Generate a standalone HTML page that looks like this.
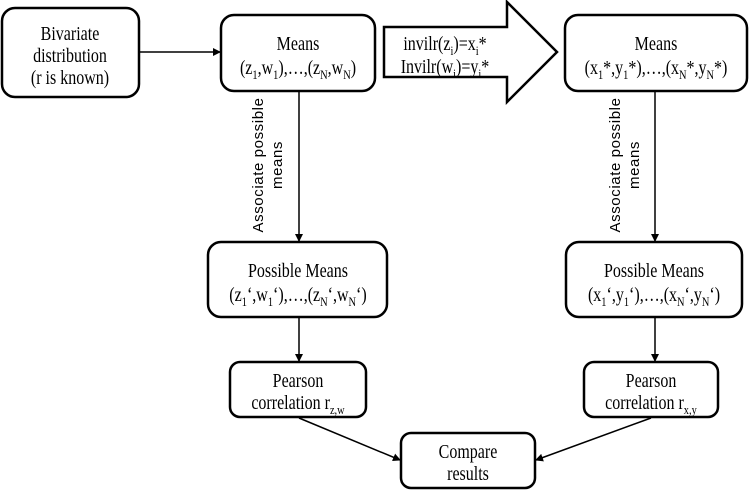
<!DOCTYPE html>
<html><head><meta charset="utf-8"><style>
html,body{margin:0;padding:0;background:#fff}
svg{display:block}
.t text{font-family:"Liberation Serif",serif;font-size:20px;fill:#000}
.s{font-family:"Liberation Sans",sans-serif;font-size:15px;letter-spacing:0.6px}
.sub{font-size:13px}
</style></head><body>
<svg width="749" height="491" viewBox="0 0 749 491" xmlns="http://www.w3.org/2000/svg">
<defs><marker id="a" markerWidth="8" markerHeight="8" refX="7" refY="4" orient="auto" markerUnits="userSpaceOnUse"><path d="M0,0 L8,4 L0,8 z" fill="#000"/></marker></defs>
<g fill="#fff" stroke="#000" stroke-width="2.5">
<rect x="2" y="8" width="137" height="89" rx="13"/>
<rect x="221" y="15" width="154" height="76" rx="13"/>
<rect x="565" y="15" width="182" height="76" rx="13"/>
<rect x="208" y="242" width="179" height="75" rx="13"/>
<rect x="566" y="242" width="176" height="75" rx="13"/>
<rect x="230" y="362" width="136" height="55" rx="10"/>
<rect x="584" y="362" width="134" height="55" rx="10"/>
<rect x="401" y="433" width="134" height="55" rx="10"/>
<path d="M384,27 L507,27 L507,2 L557,52 L507,102 L507,77 L384,77 Z"/>
</g>
<g stroke="#000" stroke-width="1.5" fill="none" marker-end="url(#a)">
<line x1="139" y1="52" x2="220" y2="52"/>
<line x1="299" y1="91" x2="299" y2="241"/>
<line x1="655" y1="91" x2="655" y2="241"/>
<line x1="299" y1="317" x2="299" y2="361"/>
<line x1="655" y1="317" x2="655" y2="361"/>
<line x1="299" y1="418" x2="400" y2="460"/>
<line x1="651" y1="418" x2="536" y2="460"/>
</g>
<g class="t" text-anchor="middle" font-family="Liberation Serif, serif">
<g transform="translate(70,0) scale(0.8,1)">
<text x="0" y="40">Bivariate</text>
<text x="0" y="62">distribution</text>
<text x="0" y="84">(r is known)</text></g>
<g transform="translate(298,0) scale(0.8,1)">
<text x="0" y="50">Means</text>
<text x="0" y="74">(z<tspan class="sub" dy="5">1</tspan><tspan dy="-5">,w</tspan><tspan class="sub" dy="5">1</tspan><tspan dy="-5">),…,(z</tspan><tspan class="sub" dy="5">N</tspan><tspan dy="-5">,w</tspan><tspan class="sub" dy="5">N</tspan><tspan dy="-5">)</tspan></text>
<text x="0" y="277">Possible Means</text>
<text x="0" y="301">(z<tspan class="sub" dy="5">1</tspan><tspan dy="-5">‘,w</tspan><tspan class="sub" dy="5">1</tspan><tspan dy="-5">‘),…,(z</tspan><tspan class="sub" dy="5">N</tspan><tspan dy="-5">‘,w</tspan><tspan class="sub" dy="5">N</tspan><tspan dy="-5">‘)</tspan></text>
<text x="0" y="387">Pearson</text>
<text x="0" y="409">correlation r<tspan class="sub" dy="5">z,w</tspan></text></g>
<g transform="translate(445,0) scale(0.8,1)">
<text x="0" y="50">invilr(z<tspan class="sub" dy="5">i</tspan><tspan dy="-5">)=x</tspan><tspan class="sub" dy="5">i</tspan><tspan dy="-5">*</tspan></text>
<text x="0" y="73">Invilr(w<tspan class="sub" dy="5">i</tspan><tspan dy="-5">)=y</tspan><tspan class="sub" dy="5">i</tspan><tspan dy="-5">*</tspan></text></g>
<g transform="translate(656,0) scale(0.8,1)">
<text x="0" y="50">Means</text>
<text x="0" y="74">(x<tspan class="sub" dy="5">1</tspan><tspan dy="-5">*,y</tspan><tspan class="sub" dy="5">1</tspan><tspan dy="-5">*),…,(x</tspan><tspan class="sub" dy="5">N</tspan><tspan dy="-5">*,y</tspan><tspan class="sub" dy="5">N</tspan><tspan dy="-5">*)</tspan></text></g>
<g transform="translate(654,0) scale(0.8,1)">
<text x="0" y="277">Possible Means</text>
<text x="0" y="301">(x<tspan class="sub" dy="5">1</tspan><tspan dy="-5">‘,y</tspan><tspan class="sub" dy="5">1</tspan><tspan dy="-5">‘),…,(x</tspan><tspan class="sub" dy="5">N</tspan><tspan dy="-5">‘,y</tspan><tspan class="sub" dy="5">N</tspan><tspan dy="-5">‘)</tspan></text></g>
<g transform="translate(651,0) scale(0.8,1)">
<text x="0" y="387">Pearson</text>
<text x="0" y="409">correlation r<tspan class="sub" dy="5">x,y</tspan></text></g>
<g transform="translate(468,0) scale(0.8,1)">
<text x="0" y="458">Compare</text>
<text x="0" y="480">results</text></g>
</g>
<g text-anchor="middle">
<text class="s" transform="translate(263,165) rotate(-90)">Associate possible</text>
<text class="s" transform="translate(282,165) rotate(-90)">means</text>
<text class="s" transform="translate(620,165) rotate(-90)">Associate possible</text>
<text class="s" transform="translate(639,165) rotate(-90)">means</text>
</g>
</svg>
</body></html>
